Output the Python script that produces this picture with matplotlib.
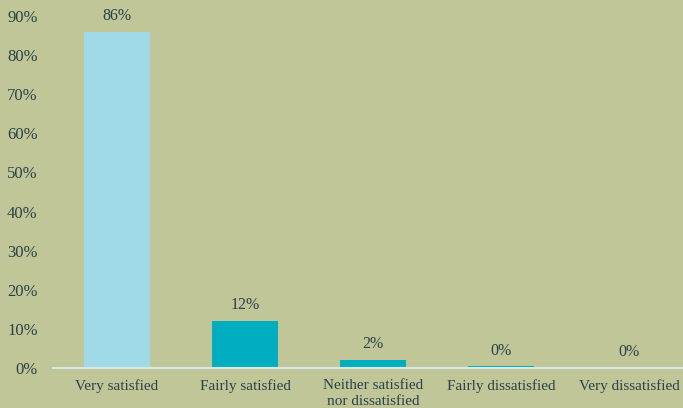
import matplotlib.pyplot as plt

categories = ["Very satisfied", "Fairly satisfied", "Neither satisfied\nnor dissatisfied",
              "Fairly dissatisfied", "Very dissatisfied"]
values = [86, 12, 2, 0.4, 0]
labels = ["86%", "12%", "2%", "0%", "0%"]
yticks = [0, 10, 20, 30, 40, 50, 60, 70, 80, 90]

bg = "#C0C698"
text_col = "#2A4248"
bar_colors = ["#A1DAE7", "#00AEBF", "#00AEBF", "#00AEBF", "#00AEBF"]

plt.rcParams["font.family"] = ["Liberation Serif", "DejaVu Serif"]

fig = plt.figure(figsize=(6.83, 4.08), dpi=100, facecolor=bg)
W, H = 683, 408
ax = fig.add_axes([53 / W, (H - 368) / H, 630 / W, 352 / H], facecolor=bg)

x = range(len(categories))
ax.bar(x, values, width=0.52, color=bar_colors)
for xi, v, lab in zip(x, values, labels):
    ax.text(xi, v + 2.0, lab, ha="center", va="bottom", fontsize=11.5, color=text_col)

ax.set_xlim(-0.5, -0.5 + 630 / 128)
ax.set_ylim(0, 90)
ax.set_yticks(yticks)
ax.set_yticklabels([f"{t}%" for t in yticks], fontsize=12, color=text_col)
ax.set_xticks(list(x))
ax.set_xticklabels(categories, fontsize=11, color=text_col, linespacing=1.25)
ax.tick_params(length=0)
ax.tick_params(axis="x", pad=8)
ax.tick_params(axis="y", pad=11)

for s in ["top", "right", "left"]:
    ax.spines[s].set_visible(False)
ax.spines["bottom"].set_color("#D8E8E6")
ax.spines["bottom"].set_linewidth(1.5)

fig.savefig("out.png", dpi=100, facecolor=bg)
